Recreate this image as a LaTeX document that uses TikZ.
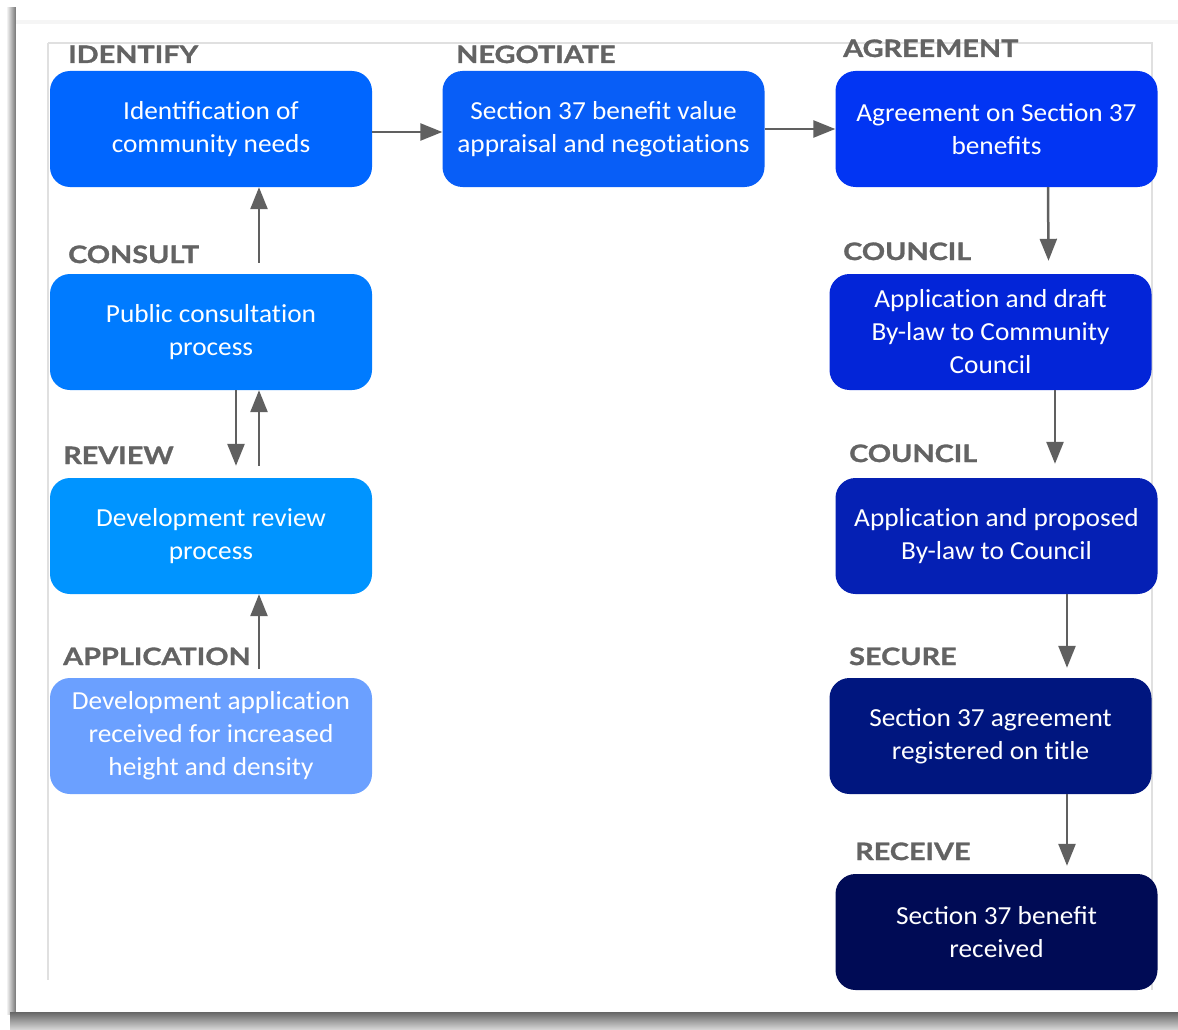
\documentclass[tikz,border=0pt]{standalone}
\usepackage{fontspec}
\setmainfont{Carlito}[FakeStretch=1.05]
\newfontfamily\labfont{Lato}[BoldFeatures={FakeStretch=1.2,FakeBold=1.2}]
\usetikzlibrary{arrows.meta,calc}
\newcommand\nolig{\kern0pt }
\definecolor{arrowgray}{HTML}{606060}
\definecolor{labgray}{HTML}{636363}
\definecolor{cIdentify}{HTML}{0066FF}
\definecolor{cNegotiate}{HTML}{085EF7}
\definecolor{cAgreement}{HTML}{0235F3}
\definecolor{cConsult}{HTML}{007BFF}
\definecolor{cReview}{HTML}{0094FF}
\definecolor{cApplication}{HTML}{6BA0FF}
\definecolor{cCouncilA}{HTML}{0325D8}
\definecolor{cCouncilB}{HTML}{0520B4}
\definecolor{cSecure}{HTML}{00167F}
\definecolor{cReceive}{HTML}{000B55}
\tikzset{
  stepbox/.style={rectangle, rounded corners=20pt, minimum width=322pt, minimum height=116pt,
    inner sep=0pt, text=white, align=center, font=\fontsize{26}{33}\selectfont},
  steplabel/.style={anchor=base west, inner sep=0pt, text=labgray,
    font=\labfont\bfseries\fontsize{24}{24}\selectfont},
  arr/.style={draw=arrowgray, line width=2.5pt, -{Triangle[length=22pt,width=17pt]}}
}
\begin{document}
\begin{tikzpicture}[x=1pt,y=-1pt]
\useasboundingbox (0,0) rectangle (1178,1030);
% page frame with shadow
\shade[left color=white, right color=black!55] (6,8) rectangle (16,1014);
\shade[top color=black!60, bottom color=black!15] (10,1012) rectangle (1178,1030);
\fill[white] (16,6) rectangle (1178,1012);
\draw[black!4, line width=4pt] (16,22) -- (1178,22);
\draw[black!12, line width=2pt] (48,43) -- (1152,43) -- (1152,990);
\draw[black!12, line width=2pt] (48,43) -- (48,980);

% boxes
\node[stepbox, fill=cIdentify] (identify) at (211,129) {Identificat\nolig ion of\\community needs};
\node[stepbox, fill=cNegotiate] (negotiate) at (603.5,129) {Section 37 benefit value\\appraisal and negot\nolig iat\nolig ions};
\node[stepbox, fill=cAgreement] (agreement) at (996.5,129) {Agreement on Section 37\\benefits};
\node[stepbox, fill=cConsult] (consult) at (211,332) {Public consultat\nolig ion\\process};
\node[stepbox, fill=cReview] (review) at (211,536) {Development review\\process};
\node[stepbox, fill=cApplication] (application) at (211,736) {Development applicat\nolig ion\\received for increased\\height and density};
\node[stepbox, fill=cCouncilA] (councilA) at (990.5,332) {Applicat\nolig ion and draft\\By-law to Community\\Council};
\node[stepbox, fill=cCouncilB] (councilB) at (996.5,536) {Applicat\nolig ion and proposed\\By-law to Council};
\node[stepbox, fill=cSecure] (secure) at (990.5,736) {Section 37 agreement\\registered on t\nolig itle};
\node[stepbox, fill=cReceive] (receive) at (996.5,932) {Section 37 benefit\\received};

% labels
\node[steplabel] (lIdentify) at (68,63) {IDENTIFY};
\node[steplabel] (lNegotiate) at (456,63) {NEGOTIATE};
\node[steplabel] (lAgreement) at (843,57) {AGREEMENT};
\node[steplabel] (lConsult) at (68,263) {CONSULT};
\node[steplabel] (lReview) at (63,464) {REVIEW};
\node[steplabel] (lApplication) at (63,665) {APPLICATION};
\node[steplabel] (lCouncilA) at (843,260) {COUNCIL};
\node[steplabel] (lCouncilB) at (849,462) {COUNCIL};
\node[steplabel] (lSecure) at (849,665) {SECURE};
\node[steplabel] (lReceive) at (855,860) {RECEIVE};

% connectors
\draw[arr] ([yshift=-3pt]identify.east) -- ([yshift=-3pt]negotiate.west);
\draw[arr] (negotiate.east) -- (agreement.west);
\draw[arr] ([xshift=48pt,yshift=11pt]consult.north) -- ([xshift=48pt]identify.south);
\draw[arr] ([xshift=25pt]consult.south) -- ([xshift=25pt,yshift=12pt]review.north);
\draw[arr] ([xshift=48pt,yshift=12pt]review.north) -- ([xshift=48pt]consult.south);
\draw[arr] ([xshift=48pt,yshift=9pt]application.north) -- ([xshift=48pt]review.south);
\draw[arr] ([xshift=51.5pt]agreement.south) -- ([xshift=58pt,yshift=13pt]councilA.north);
\draw[arr] ([xshift=64.5pt]councilA.south) -- ([xshift=58.5pt,yshift=14pt]councilB.north);
\draw[arr] ([xshift=70.5pt]councilB.south) -- ([xshift=76.5pt,yshift=10pt]secure.north);
\draw[arr] ([xshift=76.5pt]secure.south) -- ([xshift=70.5pt,yshift=8pt]receive.north);
\end{tikzpicture}
\end{document}
